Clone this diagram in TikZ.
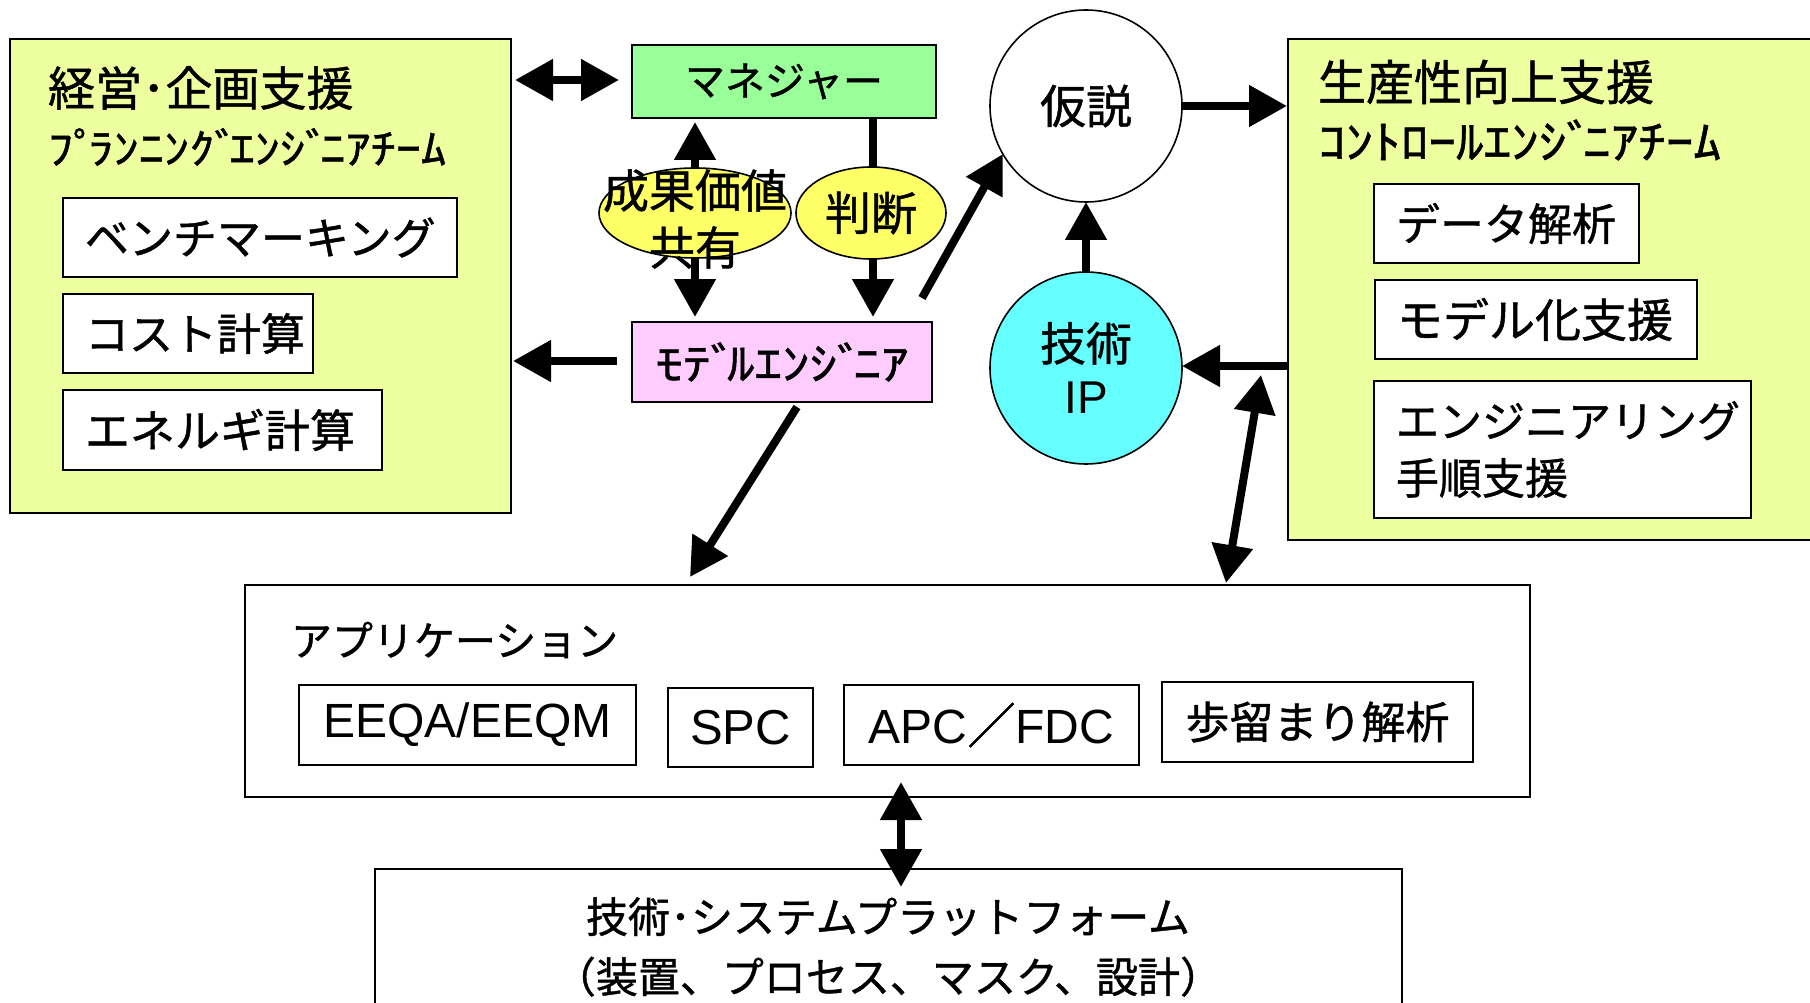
\documentclass[tikz,border=0pt]{standalone}
\usepackage{fontspec}
\usepackage{graphicx}
\setmainfont{Noto Sans CJK JP}[FakeBold=1]
\newfontfamily\latinf{Liberation Sans}
\usetikzlibrary{arrows.meta,shapes.geometric,calc}
\pgfdeclarelayer{bg}
\pgfsetlayers{bg,main}
\definecolor{panelc}{HTML}{EEFFA0}
\definecolor{mgrc}{HTML}{99FF99}
\definecolor{mdlc}{HTML}{FFCCFF}
\definecolor{yelc}{HTML}{FFFF66}
\definecolor{ipc}{HTML}{66FFFF}
\newcommand\fsz[2]{\fontsize{#1pt}{#2pt}\selectfont}
\newcommand\dk{ﾞ\kern-0.2em}
\newcommand\hdk{ﾟ\kern-0.2em}
\tikzset{
  every node/.style={inner sep=0pt, outer sep=0pt},
  panelbox/.style={draw, line width=1.6pt, fill=panelc, anchor=north west},
  itembox/.style={draw, line width=1.6pt, fill=white, anchor=north west, inner xsep=22pt, align=left},
  cbox/.style={draw, line width=1.6pt, fill=white, anchor=north west},
  oval/.style={draw, line width=1.6pt, ellipse},
  conn/.style={line width=8pt},
  bigtip/.tip={Triangle[length=38pt 0 1, width=40pt 0 1]},
  arr/.style={conn, -bigtip},
  dbl/.style={conn, bigtip-bigtip},
}
\begin{document}
\begin{tikzpicture}[x=1pt,y=-1pt]
\clip (0,0) rectangle (1810,1003);

% left panel
\node[panelbox, minimum width=501pt, minimum height=474pt] (plan) at (10,39) {};
\node[anchor=west, font=\fsz{47}{50}] (planT) at (48,88) {経営･企画支援};
\node[anchor=west, font=\fsz{42}{46}] (planS) at (48,147) {\scalebox{1.2}[1]{ﾌ\hdk ﾗﾝﾆﾝｸ\dk ｴﾝｼ\dk ﾆｱﾁｰﾑ}};
\node[itembox, text width=350pt, minimum height=79pt, font=\fsz{44}{50}] (bench) at (63,198) {ベンチマーキング};
\node[itembox, text width=206pt, minimum height=79pt, font=\fsz{44}{50}] (cost) at (63,294) {コスト計算};
\node[itembox, text width=275pt, minimum height=80pt, font=\fsz{45}{50}] (energy) at (63,390) {エネルギ計算};

% manager and model engineer
\node[cbox, fill=mgrc, minimum width=304pt, minimum height=73pt, font=\fsz{40}{46}] (mgr) at (632,45) {マネジャー};
\node[cbox, fill=mdlc, minimum width=300pt, minimum height=80pt, font=\fsz{44}{50}] (mdl) at (632,322) {\scalebox{1.25}[1]{ﾓﾃ\dk ﾙｴﾝｼ\dk ﾆｱ}};

% ellipses
\node[oval, fill=yelc, minimum width=192pt, minimum height=90pt] (seika) at (695,213) {};
\node[font=\fsz{46}{57}, align=center] (seikaT) at (695,219) {成果価値\\共有};
\node[oval, fill=yelc, minimum width=150pt, minimum height=92pt, font=\fsz{46}{50}] (handan) at (871,213) {判断};

% hypothesis and IP
\node[oval, fill=white, minimum width=192pt, minimum height=192pt, font=\fsz{46}{50}] (kasetsu) at (1086,106) {仮説};
\node[oval, fill=ipc, minimum width=192pt, minimum height=192pt, font=\fsz{46}{53}, align=center] (ip) at (1086,368) {技術\\{\latinf IP}};

% right panel
\node[panelbox, minimum width=524pt, minimum height=501pt] (prod) at (1288,39) {};
\node[anchor=west, font=\fsz{48}{52}] (prodT) at (1318,82) {生産性向上支援};
\node[anchor=west, font=\fsz{46}{50}] (prodS) at (1318,140) {\scalebox{1.2}[1]{ｺﾝﾄﾛｰﾙｴﾝｼ\dk ﾆｱﾁｰﾑ}};
\node[itembox, text width=221pt, minimum height=79pt, font=\fsz{44}{50}] (data) at (1374,184) {データ解析};
\node[itembox, text width=278pt, minimum height=79pt, font=\fsz{46}{50}] (modelsup) at (1375,280) {モデル化支援};
\node[itembox, text width=333pt, minimum height=137pt, font=\fsz{43}{57}] (engsup) at (1374,381) {エンジニアリング\\手順支援};

% application
\node[cbox, minimum width=1285pt, minimum height=212pt] (app) at (245,585) {};
\node[anchor=west, font=\fsz{41}{46}] (appT) at (291,640) {アプリケーション};
\node[cbox, minimum width=337pt, minimum height=80pt, font=\fsz{48}{52}\latinf] (eeqa) at (299,685) {EEQA/EEQM};
\node[cbox, minimum width=145pt, minimum height=79pt, font=\fsz{49}{52}\latinf] (spc) at (668,688) {SPC};
\node[cbox, minimum width=295pt, minimum height=80pt, font=\fsz{48}{52}] (apc) at (844,685) {{\latinf APC}／{\latinf FDC}};
\node[cbox, minimum width=311pt, minimum height=80pt, font=\fsz{44}{50}] (yield) at (1162,682) {歩留まり解析};

% platform
\node[cbox, minimum width=1027pt, minimum height=200pt] (plat) at (375,869) {};
\node[font=\fsz{42}{60}, align=center] (platT) at (888,947) {技術･システムプラットフォーム\\（装置、プロセス、マスク、設計）};

% connectors
\begin{pgfonlayer}{bg}
\fill[white] (0,0) rectangle (1810,1003);
\draw[dbl] ($(seika |- mgr.south)+(0,4)$) -- ($(seika |- mdl.north)+(0,-5)$);
\end{pgfonlayer}
\draw[dbl] ($(plan.east |- mgr.west)+(4,-1.5)$) -- ($(mgr.west)+(-13,-1.5)$);
\draw[conn] ($(handan |- mgr.south)+(2,0)$) -- ($(handan.north)+(2,0)$);
\draw[arr] ($(handan.south)+(2,0)$) -- ($(handan |- mdl.north)+(2,-5)$);
\draw[arr] ($(mdl.west)+(-15,-1)$) -- ($(plan.east |- mdl.west)+(2,-1)$);
\coordinate (mdlNE) at ($(mdl.north east)+(-10,-24)$);
\draw[arr] (mdlNE) -- (kasetsu.210);
\coordinate (mdlS) at ($(mdl.south)+(15,5)$);
\draw[arr] (mdlS) -- ($(app.north west)+(445,-8)$);
\draw[arr] (ip.north) -- (kasetsu.south);
\draw[arr] (kasetsu.east) -- ($(prod.west |- kasetsu.east)+(-1,0)$);
\draw[arr] ($(prod.west |- ip.east)+(0,-2)$) -- ($(ip.east)+(0,-2)$);
\draw[dbl] ($(prod.west |- ip.east)+(-27,7)$) -- ($(app.north east)+(-304,-2)$);
\draw[dbl] ($(app.south)+(13.5,-15)$) -- ($(plat.north)+(12.5,18)$);
\end{tikzpicture}
\end{document}
